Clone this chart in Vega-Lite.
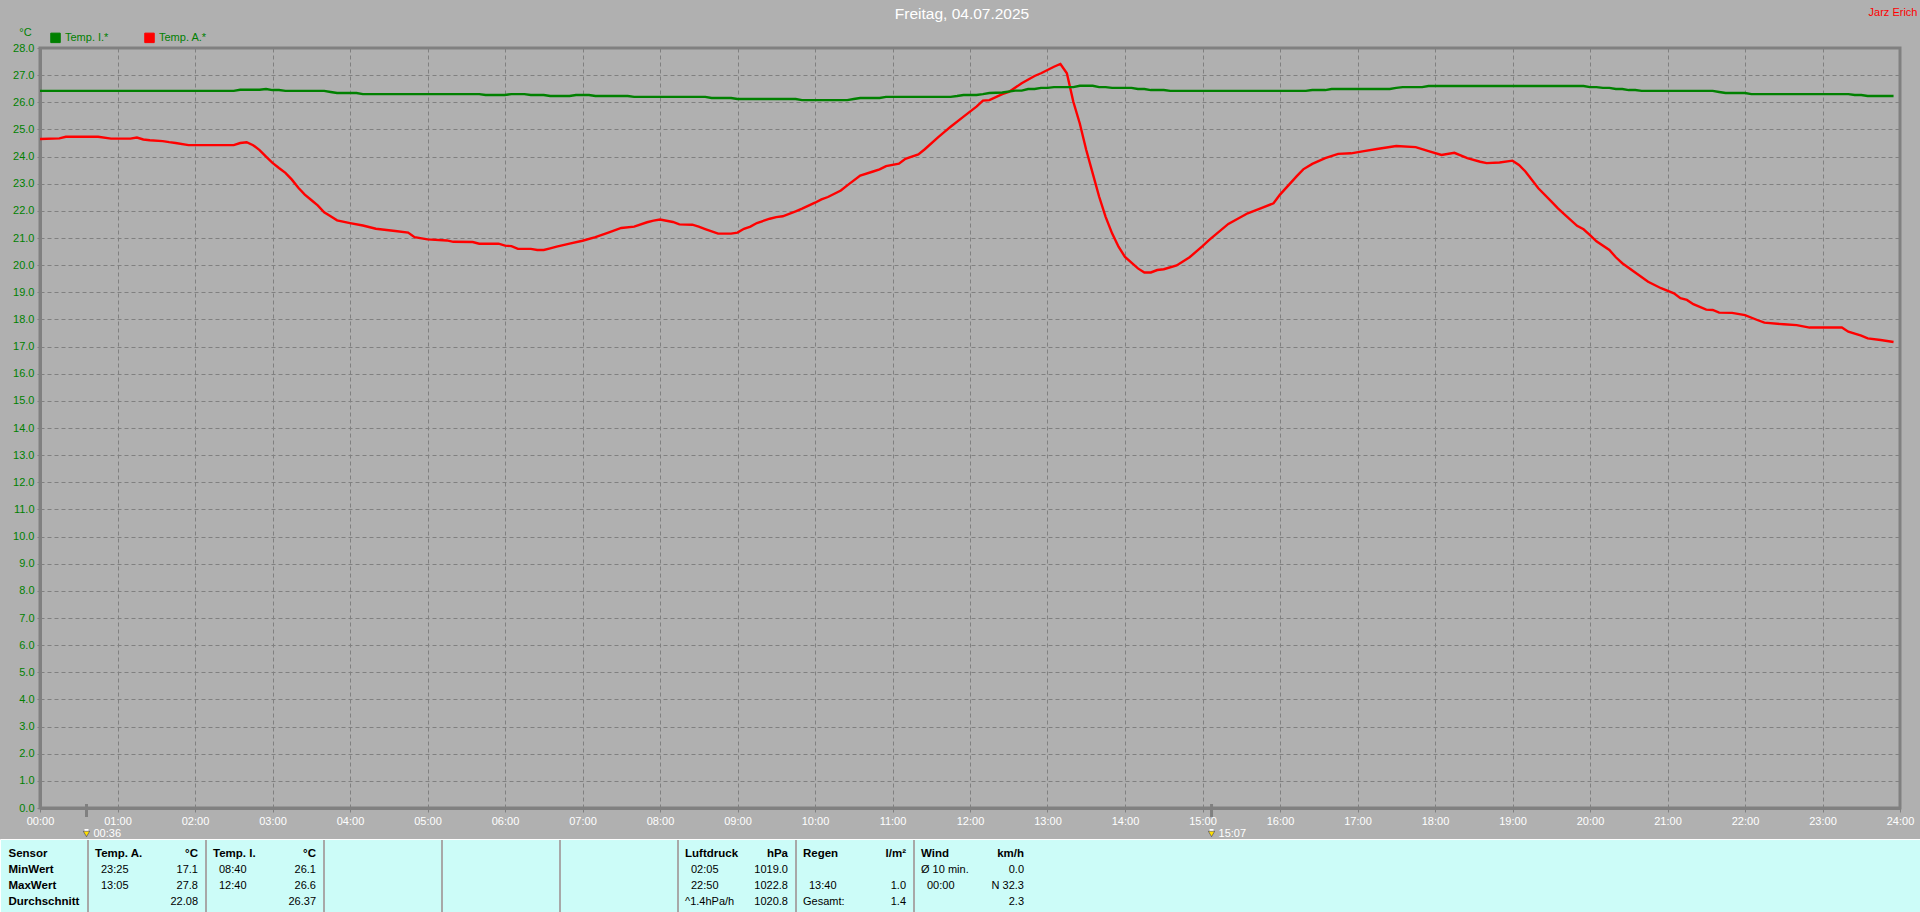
{
"$schema":"https://vega.github.io/schema/vega-lite/v6.json",
"width":1860,"height":760,
"autosize":{"type":"none"},
"padding":{"left":40,"top":48,"right":20,"bottom":104},
"background":"#b0b0b0",
"view":{"stroke":"#808080","strokeWidth":3},
"config":{"font":"Liberation Sans"},
"datasets":{
"series":[
{"time":"2025-07-04T00:00","sensor":"Temp. A.*","temp":24.65},{"time":"2025-07-04T00:15","sensor":"Temp. A.*","temp":24.67},{"time":"2025-07-04T00:20","sensor":"Temp. A.*","temp":24.73},{"time":"2025-07-04T00:45","sensor":"Temp. A.*","temp":24.73},{"time":"2025-07-04T00:55","sensor":"Temp. A.*","temp":24.66},{"time":"2025-07-04T01:10","sensor":"Temp. A.*","temp":24.66},{"time":"2025-07-04T01:15","sensor":"Temp. A.*","temp":24.7},{"time":"2025-07-04T01:20","sensor":"Temp. A.*","temp":24.63},{"time":"2025-07-04T01:25","sensor":"Temp. A.*","temp":24.6},{"time":"2025-07-04T01:35","sensor":"Temp. A.*","temp":24.57},{"time":"2025-07-04T01:40","sensor":"Temp. A.*","temp":24.53},{"time":"2025-07-04T01:45","sensor":"Temp. A.*","temp":24.5},{"time":"2025-07-04T01:55","sensor":"Temp. A.*","temp":24.42},{"time":"2025-07-04T02:30","sensor":"Temp. A.*","temp":24.42},{"time":"2025-07-04T02:35","sensor":"Temp. A.*","temp":24.5},{"time":"2025-07-04T02:40","sensor":"Temp. A.*","temp":24.53},{"time":"2025-07-04T02:45","sensor":"Temp. A.*","temp":24.42},{"time":"2025-07-04T02:50","sensor":"Temp. A.*","temp":24.24},{"time":"2025-07-04T02:55","sensor":"Temp. A.*","temp":24.0},{"time":"2025-07-04T03:00","sensor":"Temp. A.*","temp":23.77},{"time":"2025-07-04T03:05","sensor":"Temp. A.*","temp":23.58},{"time":"2025-07-04T03:10","sensor":"Temp. A.*","temp":23.4},{"time":"2025-07-04T03:15","sensor":"Temp. A.*","temp":23.15},{"time":"2025-07-04T03:20","sensor":"Temp. A.*","temp":22.85},{"time":"2025-07-04T03:25","sensor":"Temp. A.*","temp":22.6},{"time":"2025-07-04T03:30","sensor":"Temp. A.*","temp":22.4},{"time":"2025-07-04T03:35","sensor":"Temp. A.*","temp":22.2},{"time":"2025-07-04T03:40","sensor":"Temp. A.*","temp":21.95},{"time":"2025-07-04T03:45","sensor":"Temp. A.*","temp":21.8},{"time":"2025-07-04T03:50","sensor":"Temp. A.*","temp":21.65},{"time":"2025-07-04T04:00","sensor":"Temp. A.*","temp":21.55},{"time":"2025-07-04T04:10","sensor":"Temp. A.*","temp":21.46},{"time":"2025-07-04T04:20","sensor":"Temp. A.*","temp":21.34},{"time":"2025-07-04T04:35","sensor":"Temp. A.*","temp":21.26},{"time":"2025-07-04T04:45","sensor":"Temp. A.*","temp":21.2},{"time":"2025-07-04T04:50","sensor":"Temp. A.*","temp":21.03},{"time":"2025-07-04T05:00","sensor":"Temp. A.*","temp":20.95},{"time":"2025-07-04T05:15","sensor":"Temp. A.*","temp":20.91},{"time":"2025-07-04T05:20","sensor":"Temp. A.*","temp":20.86},{"time":"2025-07-04T05:35","sensor":"Temp. A.*","temp":20.85},{"time":"2025-07-04T05:40","sensor":"Temp. A.*","temp":20.79},{"time":"2025-07-04T05:55","sensor":"Temp. A.*","temp":20.79},{"time":"2025-07-04T06:00","sensor":"Temp. A.*","temp":20.72},{"time":"2025-07-04T06:05","sensor":"Temp. A.*","temp":20.7},{"time":"2025-07-04T06:10","sensor":"Temp. A.*","temp":20.6},{"time":"2025-07-04T06:20","sensor":"Temp. A.*","temp":20.6},{"time":"2025-07-04T06:25","sensor":"Temp. A.*","temp":20.56},{"time":"2025-07-04T06:30","sensor":"Temp. A.*","temp":20.56},{"time":"2025-07-04T06:35","sensor":"Temp. A.*","temp":20.62},{"time":"2025-07-04T06:40","sensor":"Temp. A.*","temp":20.68},{"time":"2025-07-04T06:50","sensor":"Temp. A.*","temp":20.79},{"time":"2025-07-04T07:00","sensor":"Temp. A.*","temp":20.9},{"time":"2025-07-04T07:10","sensor":"Temp. A.*","temp":21.03},{"time":"2025-07-04T07:20","sensor":"Temp. A.*","temp":21.2},{"time":"2025-07-04T07:30","sensor":"Temp. A.*","temp":21.37},{"time":"2025-07-04T07:40","sensor":"Temp. A.*","temp":21.42},{"time":"2025-07-04T07:50","sensor":"Temp. A.*","temp":21.58},{"time":"2025-07-04T07:55","sensor":"Temp. A.*","temp":21.64},{"time":"2025-07-04T08:00","sensor":"Temp. A.*","temp":21.68},{"time":"2025-07-04T08:10","sensor":"Temp. A.*","temp":21.59},{"time":"2025-07-04T08:15","sensor":"Temp. A.*","temp":21.5},{"time":"2025-07-04T08:25","sensor":"Temp. A.*","temp":21.49},{"time":"2025-07-04T08:30","sensor":"Temp. A.*","temp":21.42},{"time":"2025-07-04T08:35","sensor":"Temp. A.*","temp":21.33},{"time":"2025-07-04T08:45","sensor":"Temp. A.*","temp":21.16},{"time":"2025-07-04T08:55","sensor":"Temp. A.*","temp":21.16},{"time":"2025-07-04T09:00","sensor":"Temp. A.*","temp":21.2},{"time":"2025-07-04T09:05","sensor":"Temp. A.*","temp":21.34},{"time":"2025-07-04T09:10","sensor":"Temp. A.*","temp":21.42},{"time":"2025-07-04T09:15","sensor":"Temp. A.*","temp":21.55},{"time":"2025-07-04T09:25","sensor":"Temp. A.*","temp":21.71},{"time":"2025-07-04T09:30","sensor":"Temp. A.*","temp":21.77},{"time":"2025-07-04T09:35","sensor":"Temp. A.*","temp":21.8},{"time":"2025-07-04T09:45","sensor":"Temp. A.*","temp":21.98},{"time":"2025-07-04T09:50","sensor":"Temp. A.*","temp":22.08},{"time":"2025-07-04T10:00","sensor":"Temp. A.*","temp":22.3},{"time":"2025-07-04T10:05","sensor":"Temp. A.*","temp":22.42},{"time":"2025-07-04T10:10","sensor":"Temp. A.*","temp":22.51},{"time":"2025-07-04T10:20","sensor":"Temp. A.*","temp":22.75},{"time":"2025-07-04T10:25","sensor":"Temp. A.*","temp":22.94},{"time":"2025-07-04T10:35","sensor":"Temp. A.*","temp":23.3},{"time":"2025-07-04T10:45","sensor":"Temp. A.*","temp":23.45},{"time":"2025-07-04T10:50","sensor":"Temp. A.*","temp":23.53},{"time":"2025-07-04T10:55","sensor":"Temp. A.*","temp":23.65},{"time":"2025-07-04T11:05","sensor":"Temp. A.*","temp":23.74},{"time":"2025-07-04T11:10","sensor":"Temp. A.*","temp":23.92},{"time":"2025-07-04T11:20","sensor":"Temp. A.*","temp":24.08},{"time":"2025-07-04T11:25","sensor":"Temp. A.*","temp":24.27},{"time":"2025-07-04T11:35","sensor":"Temp. A.*","temp":24.7},{"time":"2025-07-04T11:40","sensor":"Temp. A.*","temp":24.9},{"time":"2025-07-04T11:45","sensor":"Temp. A.*","temp":25.1},{"time":"2025-07-04T11:55","sensor":"Temp. A.*","temp":25.47},{"time":"2025-07-04T12:05","sensor":"Temp. A.*","temp":25.84},{"time":"2025-07-04T12:10","sensor":"Temp. A.*","temp":26.06},{"time":"2025-07-04T12:15","sensor":"Temp. A.*","temp":26.08},{"time":"2025-07-04T12:25","sensor":"Temp. A.*","temp":26.3},{"time":"2025-07-04T12:30","sensor":"Temp. A.*","temp":26.38},{"time":"2025-07-04T12:40","sensor":"Temp. A.*","temp":26.7},{"time":"2025-07-04T12:50","sensor":"Temp. A.*","temp":26.97},{"time":"2025-07-04T12:55","sensor":"Temp. A.*","temp":27.07},{"time":"2025-07-04T13:05","sensor":"Temp. A.*","temp":27.31},{"time":"2025-07-04T13:10","sensor":"Temp. A.*","temp":27.41},{"time":"2025-07-04T13:15","sensor":"Temp. A.*","temp":27.07},{"time":"2025-07-04T13:20","sensor":"Temp. A.*","temp":26.02},{"time":"2025-07-04T13:25","sensor":"Temp. A.*","temp":25.22},{"time":"2025-07-04T13:30","sensor":"Temp. A.*","temp":24.24},{"time":"2025-07-04T13:35","sensor":"Temp. A.*","temp":23.38},{"time":"2025-07-04T13:40","sensor":"Temp. A.*","temp":22.52},{"time":"2025-07-04T13:45","sensor":"Temp. A.*","temp":21.78},{"time":"2025-07-04T13:50","sensor":"Temp. A.*","temp":21.17},{"time":"2025-07-04T13:55","sensor":"Temp. A.*","temp":20.68},{"time":"2025-07-04T14:00","sensor":"Temp. A.*","temp":20.3},{"time":"2025-07-04T14:10","sensor":"Temp. A.*","temp":19.88},{"time":"2025-07-04T14:15","sensor":"Temp. A.*","temp":19.73},{"time":"2025-07-04T14:20","sensor":"Temp. A.*","temp":19.73},{"time":"2025-07-04T14:25","sensor":"Temp. A.*","temp":19.82},{"time":"2025-07-04T14:30","sensor":"Temp. A.*","temp":19.85},{"time":"2025-07-04T14:40","sensor":"Temp. A.*","temp":19.99},{"time":"2025-07-04T14:50","sensor":"Temp. A.*","temp":20.29},{"time":"2025-07-04T15:00","sensor":"Temp. A.*","temp":20.7},{"time":"2025-07-04T15:05","sensor":"Temp. A.*","temp":20.92},{"time":"2025-07-04T15:20","sensor":"Temp. A.*","temp":21.52},{"time":"2025-07-04T15:35","sensor":"Temp. A.*","temp":21.91},{"time":"2025-07-04T15:45","sensor":"Temp. A.*","temp":22.09},{"time":"2025-07-04T15:55","sensor":"Temp. A.*","temp":22.28},{"time":"2025-07-04T16:00","sensor":"Temp. A.*","temp":22.6},{"time":"2025-07-04T16:13","sensor":"Temp. A.*","temp":23.28},{"time":"2025-07-04T16:18","sensor":"Temp. A.*","temp":23.53},{"time":"2025-07-04T16:25","sensor":"Temp. A.*","temp":23.73},{"time":"2025-07-04T16:35","sensor":"Temp. A.*","temp":23.94},{"time":"2025-07-04T16:45","sensor":"Temp. A.*","temp":24.1},{"time":"2025-07-04T16:55","sensor":"Temp. A.*","temp":24.12},{"time":"2025-07-04T17:05","sensor":"Temp. A.*","temp":24.2},{"time":"2025-07-04T17:15","sensor":"Temp. A.*","temp":24.28},{"time":"2025-07-04T17:30","sensor":"Temp. A.*","temp":24.39},{"time":"2025-07-04T17:45","sensor":"Temp. A.*","temp":24.35},{"time":"2025-07-04T17:55","sensor":"Temp. A.*","temp":24.2},{"time":"2025-07-04T18:05","sensor":"Temp. A.*","temp":24.06},{"time":"2025-07-04T18:15","sensor":"Temp. A.*","temp":24.14},{"time":"2025-07-04T18:25","sensor":"Temp. A.*","temp":23.94},{"time":"2025-07-04T18:35","sensor":"Temp. A.*","temp":23.81},{"time":"2025-07-04T18:40","sensor":"Temp. A.*","temp":23.76},{"time":"2025-07-04T18:50","sensor":"Temp. A.*","temp":23.78},{"time":"2025-07-04T19:00","sensor":"Temp. A.*","temp":23.85},{"time":"2025-07-04T19:05","sensor":"Temp. A.*","temp":23.69},{"time":"2025-07-04T19:10","sensor":"Temp. A.*","temp":23.45},{"time":"2025-07-04T19:20","sensor":"Temp. A.*","temp":22.83},{"time":"2025-07-04T19:30","sensor":"Temp. A.*","temp":22.35},{"time":"2025-07-04T19:35","sensor":"Temp. A.*","temp":22.1},{"time":"2025-07-04T19:40","sensor":"Temp. A.*","temp":21.88},{"time":"2025-07-04T19:50","sensor":"Temp. A.*","temp":21.45},{"time":"2025-07-04T19:55","sensor":"Temp. A.*","temp":21.32},{"time":"2025-07-04T20:00","sensor":"Temp. A.*","temp":21.11},{"time":"2025-07-04T20:05","sensor":"Temp. A.*","temp":20.88},{"time":"2025-07-04T20:15","sensor":"Temp. A.*","temp":20.56},{"time":"2025-07-04T20:20","sensor":"Temp. A.*","temp":20.29},{"time":"2025-07-04T20:25","sensor":"Temp. A.*","temp":20.07},{"time":"2025-07-04T20:35","sensor":"Temp. A.*","temp":19.73},{"time":"2025-07-04T20:45","sensor":"Temp. A.*","temp":19.39},{"time":"2025-07-04T20:55","sensor":"Temp. A.*","temp":19.15},{"time":"2025-07-04T21:05","sensor":"Temp. A.*","temp":18.96},{"time":"2025-07-04T21:10","sensor":"Temp. A.*","temp":18.78},{"time":"2025-07-04T21:15","sensor":"Temp. A.*","temp":18.72},{"time":"2025-07-04T21:20","sensor":"Temp. A.*","temp":18.56},{"time":"2025-07-04T21:30","sensor":"Temp. A.*","temp":18.36},{"time":"2025-07-04T21:35","sensor":"Temp. A.*","temp":18.35},{"time":"2025-07-04T21:40","sensor":"Temp. A.*","temp":18.25},{"time":"2025-07-04T21:50","sensor":"Temp. A.*","temp":18.24},{"time":"2025-07-04T22:00","sensor":"Temp. A.*","temp":18.16},{"time":"2025-07-04T22:10","sensor":"Temp. A.*","temp":17.97},{"time":"2025-07-04T22:15","sensor":"Temp. A.*","temp":17.88},{"time":"2025-07-04T22:30","sensor":"Temp. A.*","temp":17.82},{"time":"2025-07-04T22:40","sensor":"Temp. A.*","temp":17.79},{"time":"2025-07-04T22:50","sensor":"Temp. A.*","temp":17.7},{"time":"2025-07-04T23:15","sensor":"Temp. A.*","temp":17.7},{"time":"2025-07-04T23:20","sensor":"Temp. A.*","temp":17.55},{"time":"2025-07-04T23:30","sensor":"Temp. A.*","temp":17.4},{"time":"2025-07-04T23:35","sensor":"Temp. A.*","temp":17.3},{"time":"2025-07-04T23:45","sensor":"Temp. A.*","temp":17.24},{"time":"2025-07-04T23:55","sensor":"Temp. A.*","temp":17.17},
{"time":"2025-07-04T00:00","sensor":"Temp. I.*","temp":26.42},{"time":"2025-07-04T02:30","sensor":"Temp. I.*","temp":26.42},{"time":"2025-07-04T02:35","sensor":"Temp. I.*","temp":26.46},{"time":"2025-07-04T02:50","sensor":"Temp. I.*","temp":26.46},{"time":"2025-07-04T02:55","sensor":"Temp. I.*","temp":26.49},{"time":"2025-07-04T03:00","sensor":"Temp. I.*","temp":26.45},{"time":"2025-07-04T03:05","sensor":"Temp. I.*","temp":26.45},{"time":"2025-07-04T03:10","sensor":"Temp. I.*","temp":26.42},{"time":"2025-07-04T03:40","sensor":"Temp. I.*","temp":26.42},{"time":"2025-07-04T03:45","sensor":"Temp. I.*","temp":26.38},{"time":"2025-07-04T03:50","sensor":"Temp. I.*","temp":26.34},{"time":"2025-07-04T04:05","sensor":"Temp. I.*","temp":26.34},{"time":"2025-07-04T04:10","sensor":"Temp. I.*","temp":26.3},{"time":"2025-07-04T05:40","sensor":"Temp. I.*","temp":26.3},{"time":"2025-07-04T05:45","sensor":"Temp. I.*","temp":26.27},{"time":"2025-07-04T06:00","sensor":"Temp. I.*","temp":26.27},{"time":"2025-07-04T06:05","sensor":"Temp. I.*","temp":26.3},{"time":"2025-07-04T06:15","sensor":"Temp. I.*","temp":26.3},{"time":"2025-07-04T06:20","sensor":"Temp. I.*","temp":26.27},{"time":"2025-07-04T06:30","sensor":"Temp. I.*","temp":26.27},{"time":"2025-07-04T06:35","sensor":"Temp. I.*","temp":26.23},{"time":"2025-07-04T06:50","sensor":"Temp. I.*","temp":26.23},{"time":"2025-07-04T06:55","sensor":"Temp. I.*","temp":26.27},{"time":"2025-07-04T07:05","sensor":"Temp. I.*","temp":26.27},{"time":"2025-07-04T07:10","sensor":"Temp. I.*","temp":26.23},{"time":"2025-07-04T07:35","sensor":"Temp. I.*","temp":26.23},{"time":"2025-07-04T07:40","sensor":"Temp. I.*","temp":26.2},{"time":"2025-07-04T08:35","sensor":"Temp. I.*","temp":26.2},{"time":"2025-07-04T08:40","sensor":"Temp. I.*","temp":26.16},{"time":"2025-07-04T08:55","sensor":"Temp. I.*","temp":26.16},{"time":"2025-07-04T09:00","sensor":"Temp. I.*","temp":26.12},{"time":"2025-07-04T09:45","sensor":"Temp. I.*","temp":26.12},{"time":"2025-07-04T09:50","sensor":"Temp. I.*","temp":26.08},{"time":"2025-07-04T10:25","sensor":"Temp. I.*","temp":26.08},{"time":"2025-07-04T10:30","sensor":"Temp. I.*","temp":26.12},{"time":"2025-07-04T10:35","sensor":"Temp. I.*","temp":26.16},{"time":"2025-07-04T10:50","sensor":"Temp. I.*","temp":26.16},{"time":"2025-07-04T10:55","sensor":"Temp. I.*","temp":26.2},{"time":"2025-07-04T11:45","sensor":"Temp. I.*","temp":26.2},{"time":"2025-07-04T11:50","sensor":"Temp. I.*","temp":26.23},{"time":"2025-07-04T11:55","sensor":"Temp. I.*","temp":26.27},{"time":"2025-07-04T12:05","sensor":"Temp. I.*","temp":26.27},{"time":"2025-07-04T12:10","sensor":"Temp. I.*","temp":26.3},{"time":"2025-07-04T12:15","sensor":"Temp. I.*","temp":26.34},{"time":"2025-07-04T12:25","sensor":"Temp. I.*","temp":26.36},{"time":"2025-07-04T12:35","sensor":"Temp. I.*","temp":26.43},{"time":"2025-07-04T12:40","sensor":"Temp. I.*","temp":26.43},{"time":"2025-07-04T12:45","sensor":"Temp. I.*","temp":26.49},{"time":"2025-07-04T12:50","sensor":"Temp. I.*","temp":26.49},{"time":"2025-07-04T12:55","sensor":"Temp. I.*","temp":26.53},{"time":"2025-07-04T13:00","sensor":"Temp. I.*","temp":26.53},{"time":"2025-07-04T13:05","sensor":"Temp. I.*","temp":26.56},{"time":"2025-07-04T13:20","sensor":"Temp. I.*","temp":26.56},{"time":"2025-07-04T13:25","sensor":"Temp. I.*","temp":26.61},{"time":"2025-07-04T13:35","sensor":"Temp. I.*","temp":26.61},{"time":"2025-07-04T13:40","sensor":"Temp. I.*","temp":26.56},{"time":"2025-07-04T13:45","sensor":"Temp. I.*","temp":26.56},{"time":"2025-07-04T13:50","sensor":"Temp. I.*","temp":26.53},{"time":"2025-07-04T14:05","sensor":"Temp. I.*","temp":26.53},{"time":"2025-07-04T14:10","sensor":"Temp. I.*","temp":26.49},{"time":"2025-07-04T14:15","sensor":"Temp. I.*","temp":26.49},{"time":"2025-07-04T14:20","sensor":"Temp. I.*","temp":26.45},{"time":"2025-07-04T14:30","sensor":"Temp. I.*","temp":26.45},{"time":"2025-07-04T14:35","sensor":"Temp. I.*","temp":26.42},{"time":"2025-07-04T16:20","sensor":"Temp. I.*","temp":26.42},{"time":"2025-07-04T16:25","sensor":"Temp. I.*","temp":26.45},{"time":"2025-07-04T16:35","sensor":"Temp. I.*","temp":26.45},{"time":"2025-07-04T16:40","sensor":"Temp. I.*","temp":26.49},{"time":"2025-07-04T17:25","sensor":"Temp. I.*","temp":26.49},{"time":"2025-07-04T17:30","sensor":"Temp. I.*","temp":26.53},{"time":"2025-07-04T17:35","sensor":"Temp. I.*","temp":26.56},{"time":"2025-07-04T17:50","sensor":"Temp. I.*","temp":26.56},{"time":"2025-07-04T17:55","sensor":"Temp. I.*","temp":26.6},{"time":"2025-07-04T19:55","sensor":"Temp. I.*","temp":26.6},{"time":"2025-07-04T20:00","sensor":"Temp. I.*","temp":26.56},{"time":"2025-07-04T20:05","sensor":"Temp. I.*","temp":26.56},{"time":"2025-07-04T20:10","sensor":"Temp. I.*","temp":26.53},{"time":"2025-07-04T20:15","sensor":"Temp. I.*","temp":26.53},{"time":"2025-07-04T20:20","sensor":"Temp. I.*","temp":26.49},{"time":"2025-07-04T20:25","sensor":"Temp. I.*","temp":26.49},{"time":"2025-07-04T20:30","sensor":"Temp. I.*","temp":26.45},{"time":"2025-07-04T20:35","sensor":"Temp. I.*","temp":26.45},{"time":"2025-07-04T20:40","sensor":"Temp. I.*","temp":26.42},{"time":"2025-07-04T21:35","sensor":"Temp. I.*","temp":26.42},{"time":"2025-07-04T21:40","sensor":"Temp. I.*","temp":26.38},{"time":"2025-07-04T21:45","sensor":"Temp. I.*","temp":26.34},{"time":"2025-07-04T22:00","sensor":"Temp. I.*","temp":26.34},{"time":"2025-07-04T22:05","sensor":"Temp. I.*","temp":26.3},{"time":"2025-07-04T23:20","sensor":"Temp. I.*","temp":26.3},{"time":"2025-07-04T23:25","sensor":"Temp. I.*","temp":26.27},{"time":"2025-07-04T23:30","sensor":"Temp. I.*","temp":26.27},{"time":"2025-07-04T23:35","sensor":"Temp. I.*","temp":26.23},{"time":"2025-07-04T23:55","sensor":"Temp. I.*","temp":26.23}
],
"sunMarkers":[{"time":"2025-07-04T00:36","label":"00:36","group":"Sonne"},{"time":"2025-07-04T15:07","label":"15:07","group":"Sonne"}],
"table":[
{"kind":"row","row":"Sensor","col":-1,"label":"Sensor"},{"kind":"row","row":"MinWert","col":-1,"label":"MinWert"},{"kind":"row","row":"MaxWert","col":-1,"label":"MaxWert"},{"kind":"row","row":"Durchschnitt","col":-1,"label":"Durchschnitt"},
{"kind":"head","row":"Sensor","col":0,"label":"Temp. A."},{"kind":"unit","row":"Sensor","col":0,"label":"°C"},{"kind":"time","row":"MinWert","col":0,"label":"23:25"},{"kind":"value","row":"MinWert","col":0,"label":"17.1"},{"kind":"time","row":"MaxWert","col":0,"label":"13:05"},{"kind":"value","row":"MaxWert","col":0,"label":"27.8"},{"kind":"value","row":"Durchschnitt","col":0,"label":"22.08"},
{"kind":"head","row":"Sensor","col":1,"label":"Temp. I."},{"kind":"unit","row":"Sensor","col":1,"label":"°C"},{"kind":"time","row":"MinWert","col":1,"label":"08:40"},{"kind":"value","row":"MinWert","col":1,"label":"26.1"},{"kind":"time","row":"MaxWert","col":1,"label":"12:40"},{"kind":"value","row":"MaxWert","col":1,"label":"26.6"},{"kind":"value","row":"Durchschnitt","col":1,"label":"26.37"},
{"kind":"head","row":"Sensor","col":5,"label":"Luftdruck"},{"kind":"unit","row":"Sensor","col":5,"label":"hPa"},{"kind":"time","row":"MinWert","col":5,"label":"02:05"},{"kind":"value","row":"MinWert","col":5,"label":"1019.0"},{"kind":"time","row":"MaxWert","col":5,"label":"22:50"},{"kind":"value","row":"MaxWert","col":5,"label":"1022.8"},{"kind":"note","row":"Durchschnitt","col":5,"label":"^1.4hPa/h"},{"kind":"value","row":"Durchschnitt","col":5,"label":"1020.8"},
{"kind":"head","row":"Sensor","col":6,"label":"Regen"},{"kind":"unit","row":"Sensor","col":6,"label":"l/m²"},{"kind":"time","row":"MaxWert","col":6,"label":"13:40"},{"kind":"value","row":"MaxWert","col":6,"label":"1.0"},{"kind":"note","row":"Durchschnitt","col":6,"label":"Gesamt:"},{"kind":"value","row":"Durchschnitt","col":6,"label":"1.4"},
{"kind":"head","row":"Sensor","col":7,"label":"Wind"},{"kind":"unit","row":"Sensor","col":7,"label":"km/h"},{"kind":"note","row":"MinWert","col":7,"label":"Ø 10 min."},{"kind":"value","row":"MinWert","col":7,"label":"0.0"},{"kind":"time","row":"MaxWert","col":7,"label":"00:00"},{"kind":"value","row":"MaxWert","col":7,"label":"N 32.3"},{"kind":"value","row":"Durchschnitt","col":7,"label":"2.3"}
],
"separators":[{"col":0,"panel":"Statistik"},{"col":1,"panel":"Statistik"},{"col":2,"panel":"Statistik"},{"col":3,"panel":"Statistik"},{"col":4,"panel":"Statistik"},{"col":5,"panel":"Statistik"},{"col":6,"panel":"Statistik"},{"col":7,"panel":"Statistik"}]
},
"resolve":{"scale":{"x":"independent","y":"independent","color":"independent"}},
"layer":[
{"data":{"values":[{"panel":"Statistik"}]},
 "mark":{"type":"rect","fill":"#ccfcf8","stroke":"#ffffff","strokeWidth":1},
 "encoding":{
  "x":{"field":"panel","type":"nominal","axis":null,"scale":{"type":"band","range":[-39.5,1890],"paddingInner":0,"paddingOuter":0}},
  "y":{"field":"panel","type":"nominal","axis":null,"scale":{"type":"band","range":[791.5,870],"paddingInner":0,"paddingOuter":0}}}},
{"data":{"name":"separators"},
 "mark":{"type":"tick","orient":"vertical","size":72,"thickness":2,"color":"#a8a8a8","opacity":1},
 "encoding":{
  "x":{"field":"col","type":"quantitative","axis":null,"scale":{"domain":[0,8],"range":[48,992],"zero":false,"nice":false}},
  "y":{"field":"panel","type":"nominal","axis":null,"scale":{"type":"band","range":[792,864],"paddingInner":0,"paddingOuter":0}}}},
{"data":{"name":"series"},
 "mark":{"type":"line","strokeWidth":2.4,"interpolate":"linear","clip":false},
 "encoding":{
  "x":{"field":"time","type":"temporal","title":null,"scale":{"domain":[{"year":2025,"month":7,"date":4,"hours":0},{"year":2025,"month":7,"date":5,"hours":0}],"nice":false},
   "axis":{"values":[{"year":2025,"month":7,"date":4,"hours":0},{"year":2025,"month":7,"date":4,"hours":1},{"year":2025,"month":7,"date":4,"hours":2},{"year":2025,"month":7,"date":4,"hours":3},{"year":2025,"month":7,"date":4,"hours":4},{"year":2025,"month":7,"date":4,"hours":5},{"year":2025,"month":7,"date":4,"hours":6},{"year":2025,"month":7,"date":4,"hours":7},{"year":2025,"month":7,"date":4,"hours":8},{"year":2025,"month":7,"date":4,"hours":9},{"year":2025,"month":7,"date":4,"hours":10},{"year":2025,"month":7,"date":4,"hours":11},{"year":2025,"month":7,"date":4,"hours":12},{"year":2025,"month":7,"date":4,"hours":13},{"year":2025,"month":7,"date":4,"hours":14},{"year":2025,"month":7,"date":4,"hours":15},{"year":2025,"month":7,"date":4,"hours":16},{"year":2025,"month":7,"date":4,"hours":17},{"year":2025,"month":7,"date":4,"hours":18},{"year":2025,"month":7,"date":4,"hours":19},{"year":2025,"month":7,"date":4,"hours":20},{"year":2025,"month":7,"date":4,"hours":21},{"year":2025,"month":7,"date":4,"hours":22},{"year":2025,"month":7,"date":4,"hours":23},{"year":2025,"month":7,"date":5,"hours":0}],"format":"%H:%M","labelExpr":"date(datum.value)==5 ? '24:00' : datum.label","labelColor":"#ffffff","labelFontSize":11,"labelPadding":3,"labelFlush":false,"labelOverlap":false,"labelBound":false,"tickSize":4,"tickColor":"#808080","domainColor":"#808080","domainWidth":3,"grid":true,"gridColor":"#808080","gridDash":[4,3],"gridWidth":1}},
  "y":{"field":"temp","type":"quantitative","scale":{"domain":[0,28],"nice":false,"zero":true},
   "axis":{"values":[0,1,2,3,4,5,6,7,8,9,10,11,12,13,14,15,16,17,18,19,20,21,22,23,24,25,26,27,28],"format":".1f","labelColor":"#008000","labelFontSize":11,"labelPadding":3,"labelOverlap":false,"labelBound":false,"labelFlush":false,"tickSize":3,"tickColor":"#808080","domainColor":"#808080","domainWidth":3,"grid":true,"gridColor":"#808080","gridDash":[4,3],"gridWidth":1,"title":"°C","titleAngle":0,"titleX":-15,"titleY":-16,"titleColor":"#008000","titleFontSize":11,"titleFontWeight":"normal","titleAlign":"center","titleBaseline":"middle"}},
  "color":{"field":"sensor","type":"nominal","scale":{"domain":["Temp. I.*","Temp. A.*"],"range":["#008000","#ff0000"]},
   "legend":{"orient":"none","legendX":10,"legendY":-16,"direction":"horizontal","columns":2,"title":null,"symbolType":"square","symbolSize":90,"symbolStrokeWidth":1,"labelColor":"#008000","labelFontSize":11,"labelOffset":4,"columnPadding":33,"encode":{"symbols":{"update":{"fill":{"signal":"datum.value=='Temp. A.*' ? '#ff0000' : '#008000'"},"stroke":{"value":"#ffffff"},"opacity":{"value":1}}}}}}}},
{"data":{"name":"sunMarkers"},
 "mark":{"type":"tick","orient":"vertical","size":13,"thickness":3,"color":"#808080","opacity":1},
 "encoding":{
  "x":{"field":"time","type":"temporal","axis":null,"scale":{"domain":[{"year":2025,"month":7,"date":4,"hours":0},{"year":2025,"month":7,"date":5,"hours":0}],"nice":false}},
  "y":{"field":"group","type":"nominal","axis":null,"scale":{"type":"band","range":[756,769],"paddingInner":0,"paddingOuter":0}}}},
{"data":{"name":"sunMarkers"},
 "mark":{"type":"text","color":"#ffffff","fontSize":11,"align":"left","baseline":"middle","dx":7},
 "encoding":{
  "x":{"field":"time","type":"temporal","axis":null,"scale":{"domain":[{"year":2025,"month":7,"date":4,"hours":0},{"year":2025,"month":7,"date":5,"hours":0}],"nice":false}},
  "y":{"field":"group","type":"nominal","axis":null,"scale":{"type":"band","range":[776,796],"paddingInner":0,"paddingOuter":0}},
  "text":{"field":"label"}}},
{"data":{"name":"sunMarkers"},
 "mark":{"type":"point","shape":"square","filled":true,"color":"#ffffff","size":16,"opacity":1},
 "encoding":{
  "x":{"field":"time","type":"temporal","axis":null,"scale":{"domain":[{"year":2025,"month":7,"date":4,"hours":0},{"year":2025,"month":7,"date":5,"hours":0}],"nice":false}},
  "y":{"field":"group","type":"nominal","axis":null,"scale":{"type":"band","range":[781,785],"paddingInner":0,"paddingOuter":0}}}},
{"data":{"name":"sunMarkers"},
 "mark":{"type":"point","shape":"triangle-down","filled":true,"color":"#ffe000","stroke":"#202060","strokeWidth":0.5,"size":40,"opacity":1},
 "encoding":{
  "x":{"field":"time","type":"temporal","axis":null,"scale":{"domain":[{"year":2025,"month":7,"date":4,"hours":0},{"year":2025,"month":7,"date":5,"hours":0}],"nice":false}},
  "y":{"field":"group","type":"nominal","axis":null,"scale":{"type":"band","range":[776,796],"paddingInner":0,"paddingOuter":0}}}},
{"data":{"name":"table"},"transform":[{"filter":"datum.kind=='row'"}],
 "mark":{"type":"text","color":"#000000","fontSize":11.5,"fontWeight":"bold","align":"left","baseline":"middle","dx":38.5},
 "encoding":{
  "x":{"field":"col","type":"quantitative","axis":null,"scale":{"domain":[0,8],"range":[48,992],"zero":false,"nice":false}},
  "y":{"field":"row","type":"nominal","axis":null,"scale":{"type":"point","domain":["Sensor","MinWert","MaxWert","Durchschnitt"],"range":[806,854],"padding":0}},
  "text":{"field":"label"}}},
{"data":{"name":"table"},"transform":[{"filter":"datum.kind=='head'"}],
 "mark":{"type":"text","color":"#000000","fontSize":11.5,"fontWeight":"bold","align":"left","baseline":"middle","dx":7},
 "encoding":{
  "x":{"field":"col","type":"quantitative","axis":null,"scale":{"domain":[0,8],"range":[48,992],"zero":false,"nice":false}},
  "y":{"field":"row","type":"nominal","axis":null,"scale":{"type":"point","domain":["Sensor","MinWert","MaxWert","Durchschnitt"],"range":[806,854],"padding":0}},
  "text":{"field":"label"}}},
{"data":{"name":"table"},"transform":[{"filter":"datum.kind=='unit'"}],
 "mark":{"type":"text","color":"#000000","fontSize":11.5,"fontWeight":"bold","align":"right","baseline":"middle","dx":110},
 "encoding":{
  "x":{"field":"col","type":"quantitative","axis":null,"scale":{"domain":[0,8],"range":[48,992],"zero":false,"nice":false}},
  "y":{"field":"row","type":"nominal","axis":null,"scale":{"type":"point","domain":["Sensor","MinWert","MaxWert","Durchschnitt"],"range":[806,854],"padding":0}},
  "text":{"field":"label"}}},
{"data":{"name":"table"},"transform":[{"filter":"datum.kind=='time'"}],
 "mark":{"type":"text","color":"#000000","fontSize":11,"align":"left","baseline":"middle","dx":13},
 "encoding":{
  "x":{"field":"col","type":"quantitative","axis":null,"scale":{"domain":[0,8],"range":[48,992],"zero":false,"nice":false}},
  "y":{"field":"row","type":"nominal","axis":null,"scale":{"type":"point","domain":["Sensor","MinWert","MaxWert","Durchschnitt"],"range":[806,854],"padding":0}},
  "text":{"field":"label"}}},
{"data":{"name":"table"},"transform":[{"filter":"datum.kind=='note'"}],
 "mark":{"type":"text","color":"#000000","fontSize":11,"align":"left","baseline":"middle","dx":7},
 "encoding":{
  "x":{"field":"col","type":"quantitative","axis":null,"scale":{"domain":[0,8],"range":[48,992],"zero":false,"nice":false}},
  "y":{"field":"row","type":"nominal","axis":null,"scale":{"type":"point","domain":["Sensor","MinWert","MaxWert","Durchschnitt"],"range":[806,854],"padding":0}},
  "text":{"field":"label"}}},
{"data":{"name":"table"},"transform":[{"filter":"datum.kind=='value'"}],
 "mark":{"type":"text","color":"#000000","fontSize":11,"align":"right","baseline":"middle","dx":110},
 "encoding":{
  "x":{"field":"col","type":"quantitative","axis":null,"scale":{"domain":[0,8],"range":[48,992],"zero":false,"nice":false}},
  "y":{"field":"row","type":"nominal","axis":null,"scale":{"type":"point","domain":["Sensor","MinWert","MaxWert","Durchschnitt"],"range":[806,854],"padding":0}},
  "text":{"field":"label"}}},
{"data":{"values":[{"author":"Jarz Erich"}]},
 "mark":{"type":"text","color":"#ff0000","fontSize":11,"align":"center","baseline":"middle"},
 "encoding":{
  "x":{"field":"author","type":"nominal","axis":null,"scale":{"type":"band","range":[1843,1863],"paddingInner":0,"paddingOuter":0}},
  "y":{"field":"author","type":"nominal","axis":null,"scale":{"type":"band","range":[-45,-25],"paddingInner":0,"paddingOuter":0}},
  "text":{"field":"author"}}},
{"data":{"values":[{"heading":"Freitag, 04.07.2025"}]},
 "mark":{"type":"text","color":"#ffffff","fontSize":15.5,"align":"center","baseline":"middle"},
 "encoding":{
  "x":{"field":"heading","type":"nominal","axis":null,"scale":{"type":"band","range":[912,932],"paddingInner":0,"paddingOuter":0}},
  "y":{"field":"heading","type":"nominal","axis":null,"scale":{"type":"band","range":[-44,-24],"paddingInner":0,"paddingOuter":0}},
  "text":{"field":"heading"}}}
]
}
